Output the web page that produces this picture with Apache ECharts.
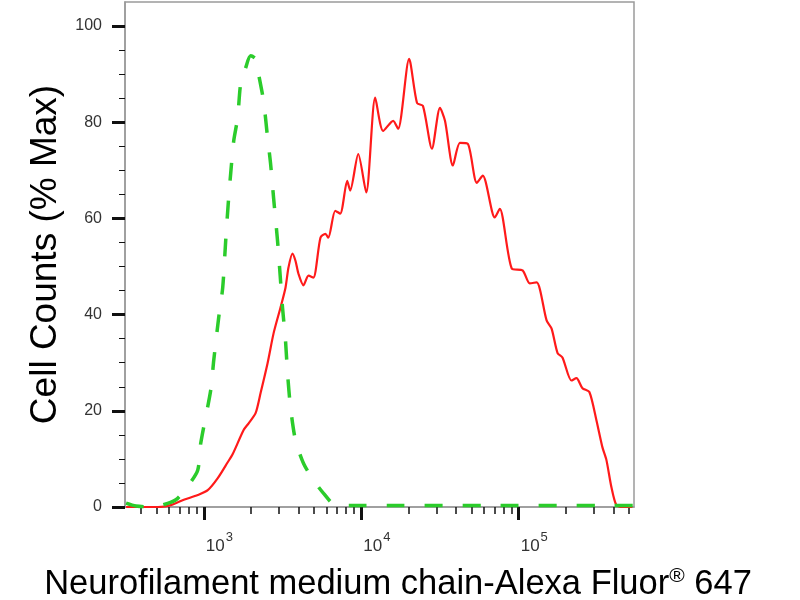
<!DOCTYPE html>
<html>
<head>
<meta charset="utf-8">
<script src="https://cdn.jsdelivr.net/npm/echarts@6/dist/echarts.min.js"></script>
<style>html,body{margin:0;padding:0;background:#fff}#c{width:800px;height:600px}</style>
</head>
<body>
<div id="c"></div>
<script>
// Fluorescence intensity (x) and % Max (y)
const redX = [321, 512, 618, 747, 916, 1060, 1227, 1419, 1527, 1791, 1927, 2133, 2295, 2542, 2775, 3072, 3304, 3451, 3656, 3822, 3993, 4295, 4624, 4966, 5508, 5916, 6180, 6840, 7357, 8147, 8511, 9572, 10760, 12270, 13780, 15950, 17150, 20140, 22610, 24660, 28120, 31620, 34040, 38200, 42360, 47550, 54200, 59160, 70470, 75860, 90360, 105900, 117500, 130000, 150400, 161800, 176600, 189700, 216300, 232800, 254100, 281200, 311900, 340400, 360600, 388200, 416900, 455100, 527200];
const redY = [0, 0, 0.4, 1.5, 2.5, 3.5, 6.0, 9.3, 11.0, 16.0, 17.4, 19.5, 23.7, 29.9, 36.1, 41.5, 45.6, 49.8, 52.7, 51.2, 48.5, 46.1, 48.1, 47.7, 56.0, 56.8, 56.0, 61.6, 61.0, 67.8, 65.8, 73.4, 65.4, 85.1, 78.2, 80.3, 78.6, 93.2, 84.0, 83.4, 74.5, 83.0, 80.3, 71.0, 75.7, 75.5, 67.4, 68.9, 60.2, 62.0, 49.6, 49.2, 46.5, 46.7, 38.8, 37.1, 32.0, 31.1, 26.3, 26.8, 24.7, 23.9, 18.0, 12.4, 9.8, 4.1, 0.4, 0, 0];
const greenX = [321, 371, 462, 519, 665, 803, 916, 957, 1107, 1157, 1244, 1319, 1378, 1439, 1482, 1549, 1641, 1715, 1844, 1983, 2133, 2229, 2398, 2542, 2656, 2775, 2940, 3072, 3162, 3304, 3404, 3556, 3822, 4295, 4966, 5745, 6840, 8511, 17660, 75860, 326000, 540000];
const greenY = [0.8, 0.2, 0, 0.2, 1.5, 4.6, 7.7, 13.3, 24.3, 30.5, 39.4, 45.6, 55.4, 64.3, 69.3, 76.1, 80.9, 88.0, 91.3, 93.8, 93.2, 90.0, 84.4, 76.8, 71.4, 64.3, 55.4, 47.1, 41.5, 34.6, 27.8, 20.7, 13.9, 9.1, 5.6, 2.9, 0.4, 0.3, 0.3, 0.3, 0.3, 0.3];
const xMajorTicks = [1000, 10000, 100000];
const xMinorTicks = [400, 500, 600, 700, 800, 900, 2000, 3000, 4000, 5000, 6000, 7000, 8000, 9000, 20000, 30000, 40000, 50000, 60000, 70000, 80000, 90000, 200000, 300000, 400000, 500000];
const yTicks = [0, 20, 40, 60, 80, 100];
const xTitle = 'Neurofilament medium chain-Alexa Fluor';
const xTitleTail = ' 647';
const yTitle = 'Cell Counts (% Max)';

const zip = (xs, ys) => xs.map((x, i) => [x, ys[i]]);
const FONT = '"Liberation Sans", Arial, sans-serif';
const chart = echarts.init(document.getElementById('c'), null, {renderer: 'canvas'});
const xMin = 316, xMax = 540000;
chart.setOption({
  animation: false,
  backgroundColor: '#fff',
  grid: {left: 125, right: 166, top: 2, bottom: 93, outerBoundsMode: 'none', containLabel: false,
    show: true, borderColor: '#9a9a9a', borderWidth: 1.5, backgroundColor: 'transparent'},
  xAxis: [{
    type: 'log', min: xMin, max: xMax, position: 'bottom',
    axisLine: {show: true, lineStyle: {color: '#9a9a9a', width: 1.5}},
    splitLine: {show: false},
    axisTick: {show: true, customValues: xMajorTicks, length: 13, lineStyle: {color: '#111', width: 3}},
    axisLabel: {
      customValues: xMajorTicks, margin: 24, align: 'left',
      formatter: v => '{b|10}{s|' + Math.round(Math.log10(v)) + '}',
      rich: {
        b: {fontFamily: FONT, fontSize: 17, color: '#333', padding: [0, 0, 0, 2]},
        s: {fontFamily: FONT, fontSize: 13, color: '#333', padding: [0, 0, 17, 1]}
      }
    },
    name: '{a|' + xTitle + '}{r|®}{a|' + xTitleTail + '}',
    nameLocation: 'middle', nameGap: 59,
    nameTextStyle: {
      padding: [0, 0, 0, 37],
      rich: {
        a: {fontFamily: FONT, fontSize: 34.5, color: '#000'},
        r: {fontFamily: FONT, fontSize: 21, color: '#000', padding: [0, 0, 15, 0]}
      }
    }
  }, {
    type: 'log', min: xMin, max: xMax, position: 'bottom',
    axisLine: {show: false},
    splitLine: {show: false},
    axisTick: {show: true, customValues: xMinorTicks, length: 7, lineStyle: {color: '#111', width: 1.5}},
    axisLabel: {show: false}
  }],
  yAxis: {
    type: 'value', min: 0, max: 105, interval: 20,
    axisLine: {show: true, lineStyle: {color: '#9a9a9a', width: 1.5}},
    splitLine: {show: false},
    axisTick: {show: true, length: 13, customValues: yTicks, lineStyle: {color: '#111', width: 3}},
    minorTick: {show: true, splitNumber: 4, length: 6, lineStyle: {color: '#111', width: 1}},
    axisLabel: {customValues: yTicks, margin: 23, fontFamily: FONT, fontSize: 16, color: '#333'},
    name: yTitle, nameLocation: 'middle', nameGap: 51,
    nameTextStyle: {fontFamily: FONT, fontSize: 37, color: '#000'}
  },
  series: [{
    type: 'line', name: 'red', xAxisIndex: 0, data: zip(redX, redY),
    showSymbol: false, smooth: 0.25,
    lineStyle: {color: '#ff1a1a', width: 2.2}
  }, {
    type: 'line', name: 'green', xAxisIndex: 0, data: zip(greenX, greenY),
    showSymbol: false, smooth: 0.25,
    lineStyle: {color: '#2bcc2b', width: 3.5, type: [18, 20]}
  }]
});
</script>
</body>
</html>
